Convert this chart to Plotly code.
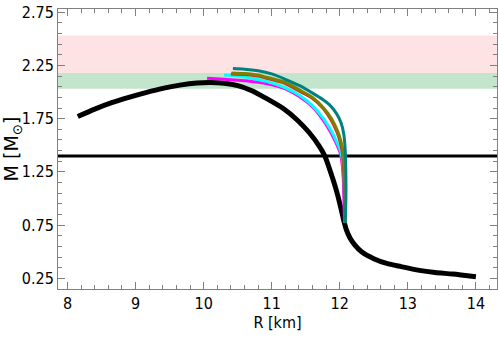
import plotly.graph_objects as go

# main black M-R curve
black_R = [8.15, 8.4, 8.65, 8.9, 9.15, 9.4, 9.65, 9.9, 10.1, 10.3, 10.5, 10.7, 10.92, 11.17, 11.37,
           11.55, 11.7, 11.78, 11.9, 11.97, 12.02, 12.06, 12.1, 12.15, 12.22, 12.32, 12.5, 12.69, 12.9,
           13.17, 13.4, 13.66, 14.0]
black_M = [1.77, 1.84, 1.90, 1.95, 1.995, 2.035, 2.065, 2.085, 2.09, 2.083, 2.06, 2.015, 1.94, 1.845, 1.74,
           1.62, 1.49, 1.40, 1.18, 1.03, 0.90, 0.79, 0.70, 0.63, 0.565, 0.50, 0.435, 0.39, 0.36,
           0.325, 0.305, 0.29, 0.265]

magenta_R = [10.05, 10.3, 10.5, 10.7, 10.92, 11.2, 11.4, 11.6, 11.74, 11.86, 11.94, 12.0, 12.03, 12.05, 12.06, 12.07]
magenta_M = [2.13, 2.12, 2.11, 2.10, 2.08, 2.03, 1.96, 1.86, 1.75, 1.63, 1.53, 1.44, 1.35, 1.2, 1.0, 0.77]

cyan_R = [10.30, 10.5, 10.7, 10.92, 11.2, 11.41, 11.6, 11.75, 11.87, 11.95, 12.01, 12.04, 12.06, 12.07, 12.07]
cyan_M = [2.16, 2.15, 2.13, 2.10, 2.04, 1.97, 1.87, 1.76, 1.64, 1.54, 1.45, 1.36, 1.2, 1.0, 0.77]

red_R = [10.40, 10.6, 10.8, 10.92, 11.2, 11.4, 11.6, 11.75, 11.87, 11.96, 12.01, 12.04, 12.06, 12.07, 12.07]
red_M = [2.17, 2.165, 2.15, 2.13, 2.08, 2.01, 1.94, 1.85, 1.74, 1.62, 1.52, 1.42, 1.2, 1.0, 0.77]

olive_R = [10.41, 10.6, 10.8, 10.92, 11.2, 11.41, 11.6, 11.75, 11.88, 11.97, 12.02, 12.05, 12.07, 12.08, 12.08]
olive_M = [2.18, 2.175, 2.16, 2.14, 2.09, 2.02, 1.95, 1.86, 1.75, 1.63, 1.53, 1.43, 1.2, 1.0, 0.77]

teal_R = [10.43, 10.6, 10.8, 11.0, 11.2, 11.41, 11.6, 11.75, 11.85, 11.95, 12.02, 12.06, 12.08, 12.09, 12.09, 12.08]
teal_M = [2.22, 2.215, 2.2, 2.17, 2.12, 2.06, 1.99, 1.93, 1.88, 1.80, 1.71, 1.6, 1.45, 1.2, 1.0, 0.77]

# observational bands (M_min, M_max)
pink_band = [2.18, 2.53]
green_band = [2.03, 2.18]
hline_M = 1.4

x_range = [7.86, 14.31]
y_range = [0.15, 2.78]

fig = go.Figure()

fig.add_shape(type="rect", xref="paper", x0=0, x1=1, yref="y", y0=pink_band[0], y1=pink_band[1],
              fillcolor="#fde3e3", line_width=0, layer="below")
fig.add_shape(type="rect", xref="paper", x0=0, x1=1, yref="y", y0=green_band[0], y1=green_band[1],
              fillcolor="#c2e5cb", line_width=0, layer="below")

fig.add_trace(go.Scatter(x=x_range, y=[hline_M, hline_M], mode="lines",
                         line=dict(color="black", width=3), showlegend=False))
fig.add_trace(go.Scatter(x=black_R, y=black_M, mode="lines", line_shape="spline",
                         line=dict(color="black", width=5, smoothing=0.7), showlegend=False))

for R, M, c in [(magenta_R, magenta_M, "#ff00ff"), (cyan_R, cyan_M, "#00ffff"),
                (red_R, red_M, "#c0392b"), (olive_R, olive_M, "#808000"),
                (teal_R, teal_M, "#008080")]:
    fig.add_trace(go.Scatter(x=R, y=M, mode="lines", line_shape="spline",
                             line=dict(color=c, width=3, smoothing=0.7), showlegend=False))

font = "DejaVu Sans Condensed, DejaVu Sans"
axis_common = dict(showgrid=False, zeroline=False, showline=True, linecolor="#808080", linewidth=1,
                   mirror="allticks", ticks="inside", ticklen=7, tickcolor="#808080", tickwidth=1,
                   automargin=False,
                   tickfont=dict(family=font, size=16, color="black"))

fig.update_xaxes(range=x_range, tick0=8, dtick=1,
                 minor=dict(ticks="inside", ticklen=4, tickcolor="#808080", dtick=0.2, showgrid=False),
                 title=dict(text="R [km]", font=dict(family=font, size=16, color="black"), standoff=0),
                 **axis_common)
fig.update_yaxes(range=y_range, tick0=0.25, dtick=0.5, tickformat=".2f",
                 minor=dict(ticks="inside", ticklen=4, tickcolor="#808080", tick0=0.25, dtick=0.1, showgrid=False),
                 title=dict(text="M [M<sub>⊙</sub>]", font=dict(family="DejaVu Sans", size=19, color="black"), standoff=0),
                 **axis_common)

fig.update_layout(width=498, height=340, margin=dict(l=58, r=1, t=9, b=51),
                  plot_bgcolor="white", paper_bgcolor="white")

fig.write_html("out.html", config={"displayModeBar": False},
               post_script="document.body.style.margin='0';document.body.style.overflow='hidden';")
